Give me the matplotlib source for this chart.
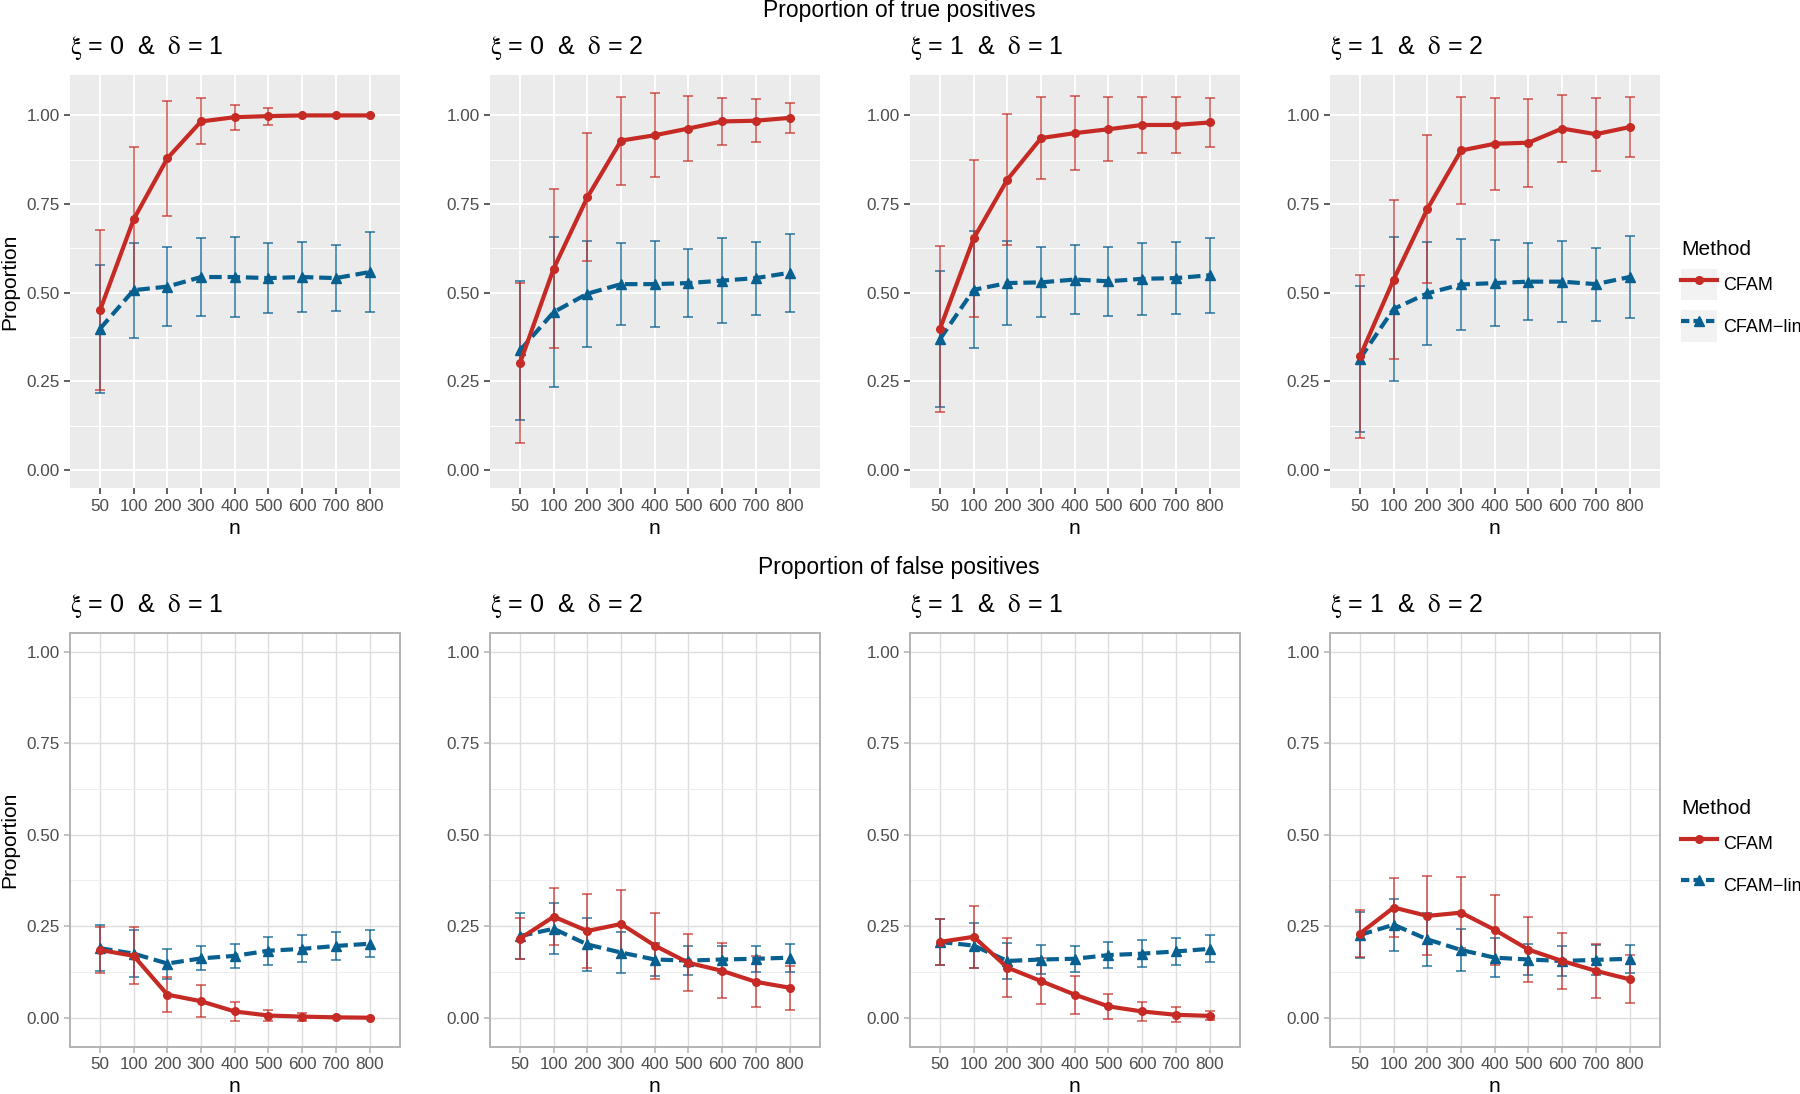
import numpy as np
import matplotlib.pyplot as plt
from matplotlib.lines import Line2D
from matplotlib.patches import Rectangle
from matplotlib.legend_handler import HandlerLine2D

plt.rcParams['font.family'] = ['Liberation Sans', 'DejaVu Sans']
plt.rcParams['mathtext.fontset'] = 'stix'

# sample sizes (discrete axis)
n_labels = ['50', '100', '200', '300', '400', '500', '600', '700', '800']
panel_titles = [r'$\mathrm{\xi}$ = 0  &  $\mathrm{\delta}$ = 1',
                r'$\mathrm{\xi}$ = 0  &  $\mathrm{\delta}$ = 2',
                r'$\mathrm{\xi}$ = 1  &  $\mathrm{\delta}$ = 1',
                r'$\mathrm{\xi}$ = 1  &  $\mathrm{\delta}$ = 2']
methods = ['CFAM', 'CFAM\u2212lin']

# proportion of true positives, mean and sd, one row per panel
tp_cfam = [[0.450, 0.707, 0.879, 0.983, 0.995, 0.998, 1.000, 1.000, 1.000],
           [0.301, 0.568, 0.769, 0.929, 0.944, 0.963, 0.983, 0.985, 0.993],
           [0.398, 0.653, 0.819, 0.936, 0.950, 0.961, 0.973, 0.973, 0.980],
           [0.320, 0.537, 0.736, 0.901, 0.920, 0.923, 0.963, 0.947, 0.967]]
tp_cfam_sd = [[0.226, 0.203, 0.163, 0.065, 0.035, 0.024, 0.000, 0.000, 0.000],
              [0.226, 0.225, 0.180, 0.124, 0.118, 0.093, 0.066, 0.060, 0.043],
              [0.234, 0.221, 0.185, 0.116, 0.104, 0.091, 0.078, 0.078, 0.070],
              [0.230, 0.223, 0.210, 0.150, 0.130, 0.124, 0.094, 0.103, 0.085]]
tp_lin = [[0.398, 0.507, 0.517, 0.544, 0.544, 0.541, 0.544, 0.541, 0.558],
          [0.337, 0.445, 0.497, 0.524, 0.524, 0.527, 0.534, 0.541, 0.556],
          [0.369, 0.508, 0.527, 0.529, 0.537, 0.532, 0.539, 0.541, 0.549],
          [0.314, 0.454, 0.498, 0.523, 0.527, 0.531, 0.531, 0.524, 0.544]]
tp_lin_sd = [[0.180, 0.134, 0.111, 0.110, 0.112, 0.098, 0.098, 0.092, 0.114],
             [0.197, 0.212, 0.149, 0.115, 0.122, 0.095, 0.120, 0.103, 0.110],
             [0.193, 0.165, 0.119, 0.099, 0.098, 0.098, 0.102, 0.101, 0.106],
             [0.206, 0.204, 0.146, 0.129, 0.121, 0.108, 0.115, 0.103, 0.115]]

# proportion of false positives
fp_cfam = [[0.185, 0.169, 0.063, 0.045, 0.017, 0.006, 0.003, 0.001, 0.000],
           [0.216, 0.276, 0.237, 0.256, 0.197, 0.150, 0.128, 0.098, 0.082],
           [0.207, 0.221, 0.137, 0.100, 0.063, 0.031, 0.017, 0.008, 0.005],
           [0.230, 0.301, 0.278, 0.287, 0.240, 0.186, 0.155, 0.128, 0.105]]
fp_cfam_sd = [[0.062, 0.078, 0.048, 0.044, 0.026, 0.016, 0.011, 0.003, 0.000],
              [0.055, 0.078, 0.101, 0.094, 0.090, 0.078, 0.075, 0.070, 0.060],
              [0.063, 0.085, 0.080, 0.062, 0.052, 0.035, 0.025, 0.020, 0.012],
              [0.065, 0.080, 0.108, 0.097, 0.096, 0.088, 0.076, 0.073, 0.066]]
fp_lin = [[0.190, 0.175, 0.148, 0.162, 0.169, 0.183, 0.188, 0.196, 0.202],
          [0.223, 0.243, 0.200, 0.178, 0.159, 0.156, 0.159, 0.161, 0.164],
          [0.207, 0.197, 0.155, 0.159, 0.161, 0.171, 0.175, 0.181, 0.188],
          [0.226, 0.254, 0.214, 0.185, 0.164, 0.159, 0.155, 0.158, 0.161]]
fp_lin_sd = [[0.062, 0.065, 0.041, 0.033, 0.032, 0.038, 0.037, 0.039, 0.037],
             [0.062, 0.070, 0.072, 0.055, 0.046, 0.040, 0.038, 0.036, 0.038],
             [0.063, 0.061, 0.050, 0.040, 0.035, 0.035, 0.037, 0.038, 0.037],
             [0.062, 0.071, 0.072, 0.058, 0.053, 0.043, 0.042, 0.041, 0.038]]

red = '#C62A24'
blue = '#07608F'

W, H = 1800, 1094
fig = plt.figure(figsize=(W / 100, H / 100), dpi=100)


def px_rect(x0, y0, x1, y1):
    return [x0 / W, 1 - y1 / H, (x1 - x0) / W, (y1 - y0) / H]


class KeyHandler(HandlerLine2D):
    # legend key with a background box, like ggplot
    def __init__(self, bg, **kw):
        super().__init__(**kw)
        self.bg = bg

    def create_artists(self, legend, orig_handle, xdescent, ydescent,
                       width, height, fontsize, trans):
        arts = super().create_artists(legend, orig_handle, xdescent, ydescent,
                                      width, height, fontsize, trans)
        box = Rectangle((-xdescent, -ydescent), width, height,
                        facecolor=self.bg, edgecolor='none', transform=trans)
        return [box] + list(arts)


def draw_panel(ax, cf, cf_sd, ln, ln_sd):
    x = np.arange(len(n_labels))
    # blue bars first, red ones drawn over them
    ax.errorbar(x, ln, yerr=ln_sd, fmt='none', ecolor=blue, alpha=0.85,
                elinewidth=1.1, capsize=3.6, capthick=1.1, zorder=3)
    ax.errorbar(x, cf, yerr=cf_sd, fmt='none', ecolor=red, alpha=0.8,
                elinewidth=1.1, capsize=3.6, capthick=1.1, zorder=3)
    ax.plot(x, ln, color=blue, lw=3, ls=(0, (3, 1.4)), marker='^', ms=6.5,
            zorder=4)
    ax.plot(x, cf, color=red, lw=3, marker='o', ms=5.5, zorder=5)
    ax.set_xlim(-0.89, 8.89)
    ax.set_xticks(x)
    ax.set_xticklabels(n_labels)
    ax.set_yticks([0, 0.25, 0.5, 0.75, 1.0])
    ax.set_yticklabels(['0.00', '0.25', '0.50', '0.75', '1.00'])
    ax.set_yticks([0.125, 0.375, 0.625, 0.875], minor=True)
    ax.set_axisbelow(True)


def style_grey(ax):
    ax.set_facecolor('#EBEBEB')
    for s in ax.spines.values():
        s.set_visible(False)
    ax.grid(True, which='major', color='white', lw=1.4)
    ax.grid(True, which='minor', axis='y', color='white', lw=0.7)
    ax.tick_params(which='major', colors='#333333', labelcolor='#4D4D4D',
                   labelsize=12.3, length=4, width=1.1, pad=3.5)
    ax.tick_params(which='minor', length=0)


def style_light(ax):
    ax.set_facecolor('white')
    for s in ax.spines.values():
        s.set_color('#B3B3B3')
        s.set_linewidth(1.4)
    ax.grid(True, which='major', color='#DEDEDE', lw=1.0)
    ax.grid(True, which='minor', axis='y', color='#EBEBEB', lw=0.6)
    ax.tick_params(which='major', colors='#B3B3B3', labelcolor='#4D4D4D',
                   labelsize=12.3, length=4, width=1.1, pad=3.5)
    ax.tick_params(which='minor', length=0)


lefts = [70, 490, 910, 1330]
pw = 329.5
rows = [
    dict(top=75, bottom=488.3, ylim=(-0.052, 1.114), style=style_grey,
         title='Proportion of true positives', title_y=17, sub_y=54,
         n_y=528, cf=tp_cfam, cf_sd=tp_cfam_sd, ln=tp_lin, ln_sd=tp_lin_sd,
         key_bg='#F2F2F2', leg_y=240),
    dict(top=633.3, bottom=1047, ylim=(-0.080, 1.050), style=style_light,
         title='Proportion of false positives', title_y=574, sub_y=612.5,
         n_y=1086, cf=fp_cfam, cf_sd=fp_cfam_sd, ln=fp_lin, ln_sd=fp_lin_sd,
         key_bg='white', leg_y=799),
]

for r in rows:
    fig.text(899 / W, 1 - r['title_y'] / H, r['title'], ha='center',
             va='baseline', fontsize=16.5)
    for i, left in enumerate(lefts):
        ax = fig.add_axes(px_rect(left, r['top'], left + pw, r['bottom']))
        draw_panel(ax, r['cf'][i], r['cf_sd'][i], r['ln'][i], r['ln_sd'][i])
        ax.set_ylim(*r['ylim'])
        r['style'](ax)
        fig.text(left / W, 1 - r['sub_y'] / H, panel_titles[i], ha='left',
                 va='baseline', fontsize=18)
        fig.text((left + pw / 2) / W, 1 - r['n_y'] / H, 'n', ha='center',
                 va='center', fontsize=15)
    fig.text(10 / W, 1 - (r['top'] + r['bottom']) / 2 / H, 'Proportion',
             rotation=90, ha='center', va='center', fontsize=15)

    handles = [Line2D([], [], color=red, lw=3, marker='o', ms=5.5),
               Line2D([], [], color=blue, lw=3, ls=(0, (2, 1)), marker='^',
                      ms=6.5)]
    hmap = {h: KeyHandler(r['key_bg'], numpoints=1) for h in handles}
    fig.legend(handles, methods, loc='upper left',
               bbox_to_anchor=(1681 / W, 1 - r['leg_y'] / H),
               frameon=False, title='Method', title_fontsize=15,
               fontsize=13, handlelength=2.0, handleheight=2.3,
               handletextpad=0.35, labelspacing=0.55, borderpad=0,
               borderaxespad=0, alignment='left', handler_map=hmap)

fig.savefig('out.png', dpi=100)
